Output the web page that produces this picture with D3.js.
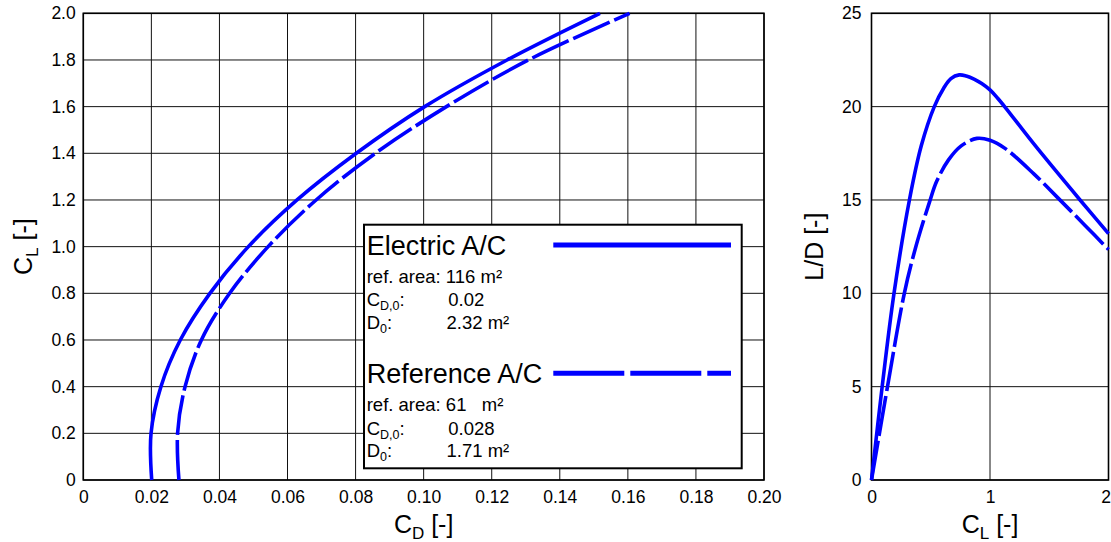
<!DOCTYPE html>
<html>
<head>
<meta charset="utf-8">
<script src="https://cdn.jsdelivr.net/npm/d3@7"></script>
<style>
  html, body { margin: 0; padding: 0; background: #fff; }
  svg { display: block; font-family: "Liberation Sans", Arial, sans-serif; }
</style>
</head>
<body>
<svg id="chart" width="1111" height="542"></svg>
<script>
// Drag polar: lift coefficient against drag coefficient
const clPolar     = [0, 0.2, 0.4, 0.6, 0.8, 1.0, 1.2, 1.4, 1.6, 1.8, 2.0];
const cdElectric  = [0.0201, 0.0199, 0.0228, 0.0285, 0.0372, 0.0485, 0.0628, 0.0802, 0.1003, 0.1245, 0.1518];
const cdReference = [0.0281, 0.0277, 0.0299, 0.0347, 0.0430, 0.0543, 0.0684, 0.0858, 0.1067, 0.1308, 0.1605];

// Glide ratio against lift coefficient
const clLdElectric  = [0, 0.09, 0.19, 0.32, 0.42, 0.53, 0.61, 0.67, 0.74, 0.8, 0.865, 0.93, 1.0, 1.065, 1.13, 1.37, 1.76, 2.0];
const ldElectric    = [0, 5, 10, 15, 17.9, 20, 21.0, 21.5, 21.7, 21.64, 21.48, 21.24, 20.9, 20.45, 19.95, 18.0, 15.0, 13.2];
const clLdReference = [0, 0.135, 0.277, 0.37, 0.49, 0.55, 0.65, 0.757, 0.89, 1.0, 1.13, 1.37, 1.575, 1.8, 2.0];
const ldReference   = [0, 5, 10, 12.4, 14.9, 16.0, 17.15, 17.9, 18.3, 18.2, 17.75, 16.4, 15.1, 13.65, 12.35];

// Tick labels
const cdTicks = ["0", "0.02", "0.04", "0.06", "0.08", "0.10", "0.12", "0.14", "0.16", "0.18", "0.20"];
const clTicks = ["0", "0.2", "0.4", "0.6", "0.8", "1.0", "1.2", "1.4", "1.6", "1.8", "2.0"];
const clTicksRight = ["0", "1", "2"];
const ldTicks = ["0", "5", "10", "15", "20", "25"];

// Legend entries
const legendItems = [
  { name: "Electric A/C",  area: "116", areaGap: " ", cd0: "0.02",  d0: "2.32", dashed: false },
  { name: "Reference A/C", area: "61",  areaGap: "   ", cd0: "0.028", d0: "1.71", dashed: true }
];

const BLUE = "#0000ff";
const svg = d3.select("#chart");

// ---------- left panel: CL vs CD ----------
const L = { left: 83.3, right: 764, top: 13.3, bottom: 480 };
const xCd = d3.scaleLinear().domain([0, 0.2]).range([L.left, L.right]);
const yCl = d3.scaleLinear().domain([0, 2]).range([L.bottom, L.top]);

// ---------- right panel: L/D vs CL ----------
const R = { left: 871.5, right: 1108.5, top: 13.3, bottom: 480 };
const xCl = d3.scaleLinear().domain([0, 2]).range([R.left, R.right]);
const yLd = d3.scaleLinear().domain([0, 25]).range([R.bottom, R.top]);

function grid(g, xs, ys, xVals, yVals, box) {
  g.selectAll(".gx").data(xVals).join("line")
    .attr("x1", d => xs(d)).attr("x2", d => xs(d))
    .attr("y1", box.top).attr("y2", box.bottom)
    .attr("stroke", "#111").attr("stroke-width", 1);
  g.selectAll(".gy").data(yVals).join("line")
    .attr("x1", box.left).attr("x2", box.right)
    .attr("y1", d => ys(d)).attr("y2", d => ys(d))
    .attr("stroke", "#111").attr("stroke-width", 1);
}

const cdVals = cdTicks.map(Number);
const clVals = clTicks.map(Number);
const clValsR = clTicksRight.map(Number);
const ldVals = ldTicks.map(Number);

grid(svg.append("g"), xCd, yCl, cdVals, clVals, L);
grid(svg.append("g"), xCl, yLd, clValsR, ldVals, R);

// frames
[L, R].forEach(b => {
  svg.append("rect")
    .attr("x", b.left).attr("y", b.top)
    .attr("width", b.right - b.left).attr("height", b.bottom - b.top)
    .attr("fill", "none").attr("stroke", "#000").attr("stroke-width", 1.6);
});

// axes (labels only)
function styleAxis(g) {
  g.select(".domain").remove();
  g.selectAll("line").remove();
  g.selectAll("text").attr("font-size", "17.5px").attr("fill", "#000")
    .attr("font-family", "Liberation Sans, Arial, sans-serif");
}
svg.append("g").attr("transform", `translate(0,${L.bottom})`)
  .call(d3.axisBottom(xCd).tickValues(cdVals).tickSize(0).tickPadding(10.3)
    .tickFormat((d, i) => cdTicks[i]))
  .call(styleAxis);
svg.append("g").attr("transform", `translate(${L.left},0)`)
  .call(d3.axisLeft(yCl).tickValues(clVals).tickSize(0).tickPadding(7.6)
    .tickFormat((d, i) => clTicks[i]))
  .call(styleAxis);
const xRightAxis = svg.append("g").attr("transform", `translate(0,${R.bottom})`)
  .call(d3.axisBottom(xCl).tickValues(clValsR).tickSize(0).tickPadding(10.3)
    .tickFormat((d, i) => clTicksRight[i]))
  .call(styleAxis);
// keep the last label inside the page edge
xRightAxis.selectAll(".tick").filter(d => d === 2).select("text")
  .attr("text-anchor", "end").attr("x", 2);
svg.append("g").attr("transform", `translate(${R.left},0)`)
  .call(d3.axisLeft(yLd).tickValues(ldVals).tickSize(0).tickPadding(10)
    .tickFormat((d, i) => ldTicks[i]))
  .call(styleAxis);

// axis titles with subscripts
function title(x, y, main, sub, rest, rotate) {
  const t = svg.append("text")
    .attr("text-anchor", "middle")
    .attr("font-size", "25px")
    .attr("fill", "#000")
    .attr("transform", `translate(${x},${y})` + (rotate ? " rotate(-90)" : ""));
  t.append("tspan").text(main);
  if (sub) t.append("tspan").attr("font-size", "17px").attr("dy", 6).text(sub);
  t.append("tspan").attr("dy", sub ? -6 : 0).text(rest);
}
title((L.left + L.right) / 2, 533, "C", "D", " [-]", false);
title(32, (L.top + L.bottom) / 2, "C", "L", " [-]", true);
title(xCl(1), 533, "C", "L", " [-]", false);
title(823, (R.top + R.bottom) / 2, "L/D [-]", null, "", true);

// curves
const DASH = "40,5";
const polarLine = d3.line().x(d => xCd(d[1])).y(d => yCl(d[0])).curve(d3.curveCatmullRom.alpha(0.5));
const ldLine = d3.line().x(d => xCl(d[0])).y(d => yLd(d[1])).curve(d3.curveCatmullRom.alpha(0.5));

svg.append("path").datum(clPolar.map((c, i) => [c, cdElectric[i]]))
  .attr("d", polarLine).attr("fill", "none").attr("stroke", BLUE).attr("stroke-width", 3.6);
svg.append("path").datum(clPolar.map((c, i) => [c, cdReference[i]]))
  .attr("d", polarLine).attr("fill", "none").attr("stroke", BLUE).attr("stroke-width", 3.6)
  .attr("stroke-dasharray", DASH);

svg.append("path").datum(clLdElectric.map((c, i) => [c, ldElectric[i]]))
  .attr("d", ldLine).attr("fill", "none").attr("stroke", BLUE).attr("stroke-width", 3.6);
svg.append("path").datum(clLdReference.map((c, i) => [c, ldReference[i]]))
  .attr("d", ldLine).attr("fill", "none").attr("stroke", BLUE).attr("stroke-width", 3.6)
  .attr("stroke-dasharray", DASH);

// legend
const lg = svg.append("g");
lg.append("rect").attr("x", 364).attr("y", 224.7).attr("width", 377.7).attr("height", 243.6)
  .attr("fill", "#fff").attr("stroke", "#000").attr("stroke-width", 2);

legendItems.forEach((it, k) => {
  const y0 = k === 0 ? 255 : 383.3;
  const tx = 366.7;
  lg.append("text").attr("x", tx).attr("y", y0).attr("font-size", "27px").attr("fill", "#000").text(it.name);
  lg.append("line").attr("x1", 553.3).attr("x2", 731).attr("y1", y0 - 10).attr("y2", y0 - 10)
    .attr("stroke", BLUE).attr("stroke-width", 5)
    .attr("stroke-dasharray", it.dashed ? "71,6" : null);

  const fs = "18.5px";
  lg.append("text").attr("x", tx).attr("y", y0 + 27.7).attr("font-size", fs).attr("fill", "#000")
    .attr("xml:space", "preserve").style("white-space", "pre")
    .text(`ref. area: ${it.area}${it.areaGap}m²`);

  const c = lg.append("text").attr("x", tx).attr("y", y0 + 51.3).attr("font-size", fs).attr("fill", "#000");
  c.append("tspan").text("C");
  c.append("tspan").attr("font-size", "12.5px").attr("dy", 4).text("D,0");
  c.append("tspan").attr("dy", -4).text(":");
  lg.append("text").attr("x", 448.3).attr("y", y0 + 51.3).attr("font-size", fs).attr("fill", "#000").text(it.cd0);

  const d = lg.append("text").attr("x", tx).attr("y", y0 + 74).attr("font-size", fs).attr("fill", "#000");
  d.append("tspan").text("D");
  d.append("tspan").attr("font-size", "12.5px").attr("dy", 4).text("0");
  d.append("tspan").attr("dy", -4).text(":");
  lg.append("text").attr("x", 446.5).attr("y", y0 + 74).attr("font-size", fs).attr("fill", "#000").text(`${it.d0} m²`);
});
</script>
</body>
</html>
